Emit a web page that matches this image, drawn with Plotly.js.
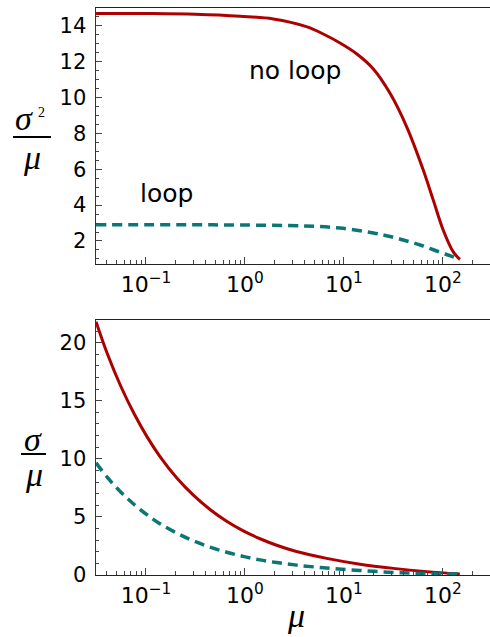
<!DOCTYPE html>
<html>
<head>
<meta charset="utf-8">
<script src="https://cdn.plot.ly/plotly-3.0.1.min.js"></script>
<style>
  html, body { margin: 0; padding: 0; background: #fff; }
  #chart { width: 490px; height: 637px; }
</style>
</head>
<body>
<div id="chart"></div>
<script>
// top panel: Fano factor sigma^2/mu vs mu
const muTopNoLoop = [0.0313, 0.1, 0.316, 0.891, 1.93, 4.17, 6.17, 9.12, 13.4, 19.8, 29.2, 43.0, 63.2, 79.8, 100.7, 127, 148];
const fanoNoLoop  = [14.70, 14.69, 14.65, 14.54, 14.39, 13.96, 13.55, 13.05, 12.45, 11.60, 10.24, 8.37, 5.96, 4.28, 2.60, 1.39, 0.97];
const muTopLoop   = [0.0313, 0.1, 0.316, 0.891, 3.89, 9.12, 19.8, 29.2, 43.0, 63.1, 93.3, 117.5, 148];
const fanoLoop    = [2.90, 2.90, 2.90, 2.89, 2.84, 2.72, 2.45, 2.25, 2.00, 1.72, 1.37, 1.18, 0.97];

// bottom panel: CV sigma/mu vs mu
const muBottom  = [0.0313, 0.0407, 0.0555, 0.0759, 0.103, 0.138, 0.204, 0.301, 0.443, 0.653, 0.962, 1.42, 2.09, 3.31, 6.68, 14.5, 31.6, 68.4, 148];
const cvNoLoop  = [21.8, 19.04, 16.27, 13.88, 11.87, 10.22, 8.37, 6.87, 5.64, 4.63, 3.80, 3.12, 2.56, 2.02, 1.43, 0.93, 0.57, 0.29, 0.08];
const cvLoop    = [9.66, 8.40, 7.15, 6.07, 5.17, 4.42, 3.61, 2.94, 2.40, 1.96, 1.60, 1.30, 1.07, 0.85, 0.60, 0.39, 0.22, 0.12, 0.08];

const xTickVals = [0.1, 1, 10, 100];
const xTickText = ['10<sup>\u22121</sup>', '10<sup>0</sup>', '10<sup>1</sup>', '10<sup>2</sup>'];

const RED = '#ad0000';
const TEAL = '#0b7676';

// minor log ticks 2..9 per decade
const minorX = [];
[0.01, 0.1, 1, 10, 100].forEach(d => {
    for (let k = 2; k <= 9; k++) minorX.push(d * k);
});

const W = 490, H = 637, L = 96;
const px = x => (x - L) / (W - L);
const py = y => 1 - y / H;

const tickFont = { family: 'DejaVu Sans, sans-serif', size: 21, color: '#000' };
const textFont = { family: 'DejaVu Sans, sans-serif', size: 25, color: '#000' };
const mathFont = { family: 'Liberation Serif, serif', size: 34, color: '#000' };

const redLine = { color: RED, width: 3, shape: 'spline', smoothing: 1 };
const tealLine = { color: TEAL, width: 3.5, dash: '10px,6px', shape: 'spline', smoothing: 1 };

const traces = [
    { x: muTopNoLoop, y: fanoNoLoop, mode: 'lines', line: redLine, xaxis: 'x', yaxis: 'y' },
    { x: muTopLoop, y: fanoLoop, mode: 'lines', line: tealLine, xaxis: 'x', yaxis: 'y' },
    { x: muBottom, y: cvNoLoop, mode: 'lines', line: redLine, xaxis: 'x2', yaxis: 'y2' },
    { x: muBottom, y: cvLoop, mode: 'lines', line: tealLine, xaxis: 'x2', yaxis: 'y2' }
];

const xAxisBase = {
    type: 'log', range: [-1.505, 2.475],
    showline: true, linecolor: '#222', linewidth: 1, mirror: true,
    ticks: 'inside', ticklen: 7, tickwidth: 1, tickcolor: '#444',
    tickmode: 'array', tickvals: xTickVals, ticktext: xTickText,
    tickfont: { ...tickFont, size: 22 }, ticklabelstandoff: 1,
    showgrid: false, zeroline: false,
    minor: { ticks: 'inside', ticklen: 4, tickwidth: 1, tickcolor: '#444', tickmode: 'array', tickvals: minorX, showgrid: false }
};

const yAxisBase = {
    showline: true, linecolor: '#333', linewidth: 1.5,
    ticks: 'inside', ticklen: 6, tickwidth: 1, tickcolor: '#444',
    tickfont: tickFont, ticklabelstandoff: 4,
    showgrid: false, zeroline: false
};

const ann = (text, x, y, font) => ({
    text, x: px(x), y: py(y), xref: 'paper', yref: 'paper',
    xanchor: 'center', yanchor: 'middle', showarrow: false, font
});

const layout = {
    width: W, height: H,
    margin: { l: L, r: 0, t: 0, b: 0 },
    paper_bgcolor: '#fff', plot_bgcolor: '#fff',
    showlegend: false,
    xaxis: { ...xAxisBase, anchor: 'y', domain: [0, 1] },
    yaxis: {
        ...yAxisBase, anchor: 'x', domain: [py(264), py(8)], range: [0.715, 15.0],
        tickmode: 'array', tickvals: [2, 4, 6, 8, 10, 12, 14],
        minor: { ticks: 'inside', ticklen: 3, dtick: 0.5, tick0: 0, tickcolor: '#444', showgrid: false }
    },
    xaxis2: { ...xAxisBase, anchor: 'y2', domain: [0, 1] },
    yaxis2: {
        ...yAxisBase, anchor: 'x2', domain: [py(575), py(320)], range: [0, 21.95],
        tickmode: 'linear', tick0: 0, dtick: 5,
        minor: { ticks: 'inside', ticklen: 3, dtick: 1, tick0: 0, tickcolor: '#444', showgrid: false }
    },
    annotations: [
        ann('no loop', 295, 71, textFont),
        ann('loop', 166, 193, textFont),
        // top y label: sigma^2 / mu
        ann('<i>\u03c3</i>', 24, 118, mathFont),
        ann('2', 41, 113, { ...mathFont, size: 14 }),
        ann('<i>\u03bc</i>', 32, 158, mathFont),
        // bottom y label: sigma / mu
        ann('<i>\u03c3</i>', 33, 439, mathFont),
        ann('<i>\u03bc</i>', 34, 474, mathFont),
        // x title
        ann('<i>\u03bc</i>', 296, 615, mathFont)
    ],
    shapes: [
        { type: 'line', xref: 'paper', yref: 'paper', x0: px(13), x1: px(51), y0: py(137), y1: py(137), line: { color: '#000', width: 2 } },
        { type: 'line', xref: 'paper', yref: 'paper', x0: px(21), x1: px(46), y0: py(454), y1: py(454), line: { color: '#000', width: 2 } }
    ]
};

Plotly.newPlot('chart', traces, layout, { staticPlot: true, displayModeBar: false });
</script>
</body>
</html>
